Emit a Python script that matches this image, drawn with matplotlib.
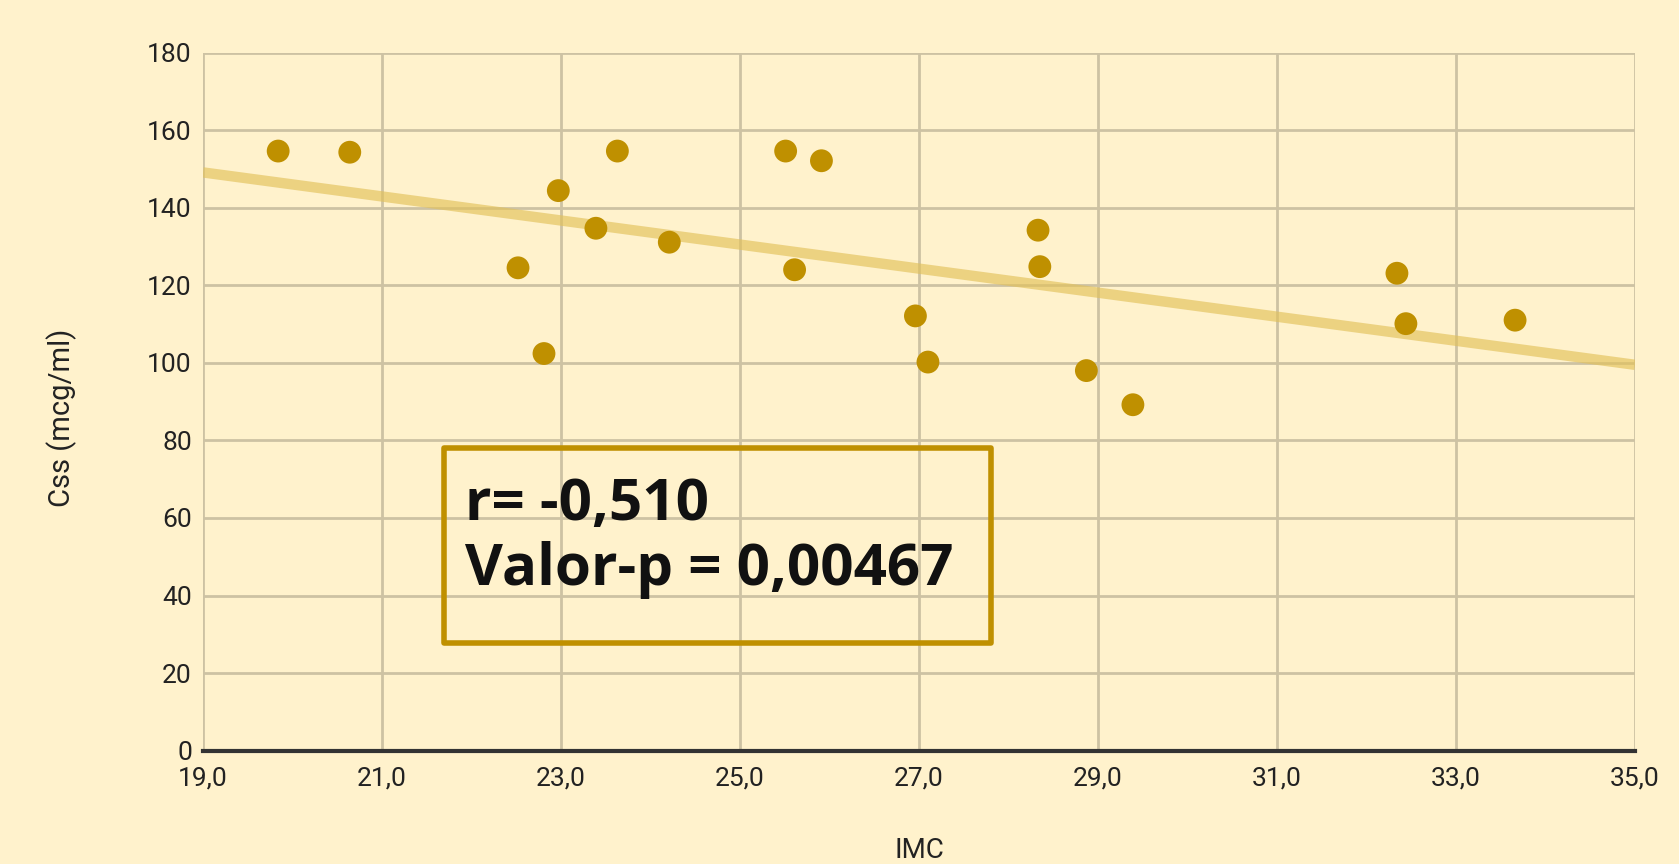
import numpy as np
import matplotlib.pyplot as plt

# IMC vs Css scatter
imc = [19.84, 20.64, 22.52, 22.81, 22.97, 23.39, 23.63, 24.21, 25.51, 25.61,
       25.91, 26.96, 27.10, 28.33, 28.35, 28.87, 29.39, 32.34, 32.44, 33.66]
css = [154.6, 154.3, 124.5, 102.4, 144.4, 134.7, 154.6, 131.1, 154.6, 124.0,
       152.1, 112.1, 100.2, 134.2, 124.8, 98.0, 89.2, 123.1, 110.1, 111.0]
x_ticks = [19, 21, 23, 25, 27, 29, 31, 33, 35]
y_ticks = [0, 20, 40, 60, 80, 100, 120, 140, 160, 180]
stats_text = "r= -0,510\nValor-p = 0,00467"

bg = "#FFF2CC"
gold = "#BF9000"

fig = plt.figure(figsize=(16.79, 8.64), dpi=100)
fig.patch.set_facecolor(bg)
ax = fig.add_axes([0.1209, 0.1311, 0.8529, 0.8081])
ax.set_facecolor(bg)

# trend line from least squares fit
slope, intercept = np.polyfit(imc, css, 1)
xl = np.array([x_ticks[0], x_ticks[-1]])
ax.plot(xl, slope * xl + intercept, color="#E2C15A", alpha=0.65, lw=7.5,
        solid_capstyle="butt", zorder=2)

ax.scatter(imc, css, s=270, color=gold, edgecolors="none", zorder=3)

ax.set_xlim(x_ticks[0], x_ticks[-1])
ax.set_ylim(y_ticks[0], y_ticks[-1])
ax.set_xticks(x_ticks)
ax.set_xticklabels([("%.1f" % v).replace(".", ",") for v in x_ticks])
ax.set_yticks(y_ticks)
ax.grid(True, color="#CDC2A3", lw=2, zorder=0)
ax.set_axisbelow(True)
for s in ["left", "right", "top"]:
    ax.spines[s].set_visible(False)
ax.spines["bottom"].set_color("#333333")
ax.spines["bottom"].set_linewidth(3)
ax.spines["bottom"].set_zorder(4)
ax.tick_params(length=0, labelsize=19, labelcolor="#222222")
ax.tick_params(axis="x", pad=11)
ax.tick_params(axis="y", pad=8)
for lab in ax.get_xticklabels() + ax.get_yticklabels():
    lab.set_family("Roboto")

fig.text(919 / 1679, 1 - 837 / 864, "IMC", fontsize=20, family="Roboto",
         color="#222222", ha="center", va="top")
fig.text(62 / 1679, 1 - 418 / 864, "Css (mcg/ml)", fontsize=21, family="Roboto",
         color="#222222", ha="center", va="center", rotation=90)

# stats box
ax.add_patch(plt.Rectangle((21.69, 27.9), 6.11, 50.2, fill=False, ec=gold,
                           lw=4, joinstyle="round", zorder=5))
ax.text(21.93, 55, stats_text, fontsize=42, fontweight="bold", family="Open Sans",
        color="#111111", va="center", ha="left", linespacing=1.15, zorder=6)

plt.savefig("out.png", dpi=100, facecolor=bg)
